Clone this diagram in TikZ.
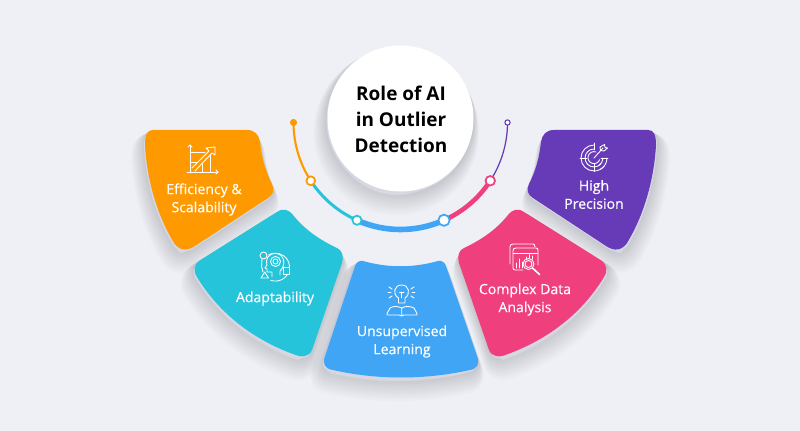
\documentclass[tikz,border=0pt]{standalone}
\usepackage{fontspec}
\setmainfont{Open Sans}
\newfontfamily\labelfont[FakeBold=0.35]{Open Sans}
\usetikzlibrary{calc}
\definecolor{pagebg}{HTML}{EFF0F5}
\definecolor{shade}{HTML}{8084B6}
\definecolor{rim}{HTML}{D5D7E6}
\definecolor{effcol}{HTML}{FF9900}
\definecolor{adacol}{HTML}{25C4DA}
\definecolor{unscol}{HTML}{40A5F5}
\definecolor{cdacol}{HTML}{EF3F7C}
\definecolor{hipcol}{HTML}{673AB7}
\newcommand\arcr{107}
\newcommand\wingshape{(153,130) -- (247,130) .. controls (255,130) and (259,135) .. (260,142) .. controls (262,160) and (266,172) .. (272,184) .. controls (275,190) and (273,195) .. (268,198) -- (195,246) .. controls (186,252) and (179,250) .. (174,243) .. controls (157,215) and (147,180) .. (145,145) .. controls (145,135) and (147,130) .. (153,130) -- cycle}
\newcommand\flankshape{(277,212) -- (199,261) .. controls (194,265) and (193,271) .. (197,277) .. controls (220,315) and (255,340) .. (293,354) .. controls (302,358) and (309,357) .. (312,350) -- (342,263) .. controls (344,256) and (342,250) .. (337,248) .. controls (320,240) and (305,230) .. (293,215) .. controls (288,209) and (283,208) .. (277,212) -- cycle}
\newcommand\baseshape{(363,261) .. controls (388,268) and (413,268) .. (438,261) .. controls (442,260) and (445,263) .. (446,266) -- (477,356) .. controls (480,364) and (477,369) .. (470,370) .. controls (425,380) and (377,380) .. (333,370) .. controls (325,369) and (322,364) .. (325,356) -- (355,266) .. controls (356,263) and (359,260) .. (363,261) -- cycle}
\tikzset{
  x=0.02cm, y=-0.02cm,
  label/.style={white, align=center, inner sep=0pt, font=\labelfont\fontsize{8}{10.3}\selectfont},
  ico/.style={draw=white, line width=0.5pt, line cap=round, line join=round},
  dot/.style={circle, fill=white, inner sep=0pt}
}
\newcommand\softshadow[1]{
  \foreach \s in {14,13,...,1} {
    \begin{scope}[transparency group, opacity=0.013]
      \draw[shade, fill=shade, line width=\s*0.8pt, line join=round, shift={(-0.3*\s,\s)}] #1;
    \end{scope}
  }
  \fill[rim, shift={(-1,2)}] #1;
}
\begin{document}
\begin{tikzpicture}
  \useasboundingbox (0,0) rectangle (800,431);
  \fill[pagebg] (0,0) rectangle (800,431);

  % petals
  \softshadow{\wingshape}
  \softshadow{\flankshape}
  \softshadow{\baseshape}
  \begin{scope}[shift={(801,0)}, xscale=-1]
    \softshadow{\wingshape}
    \softshadow{\flankshape}
  \end{scope}
  \fill[effcol] \wingshape;
  \fill[adacol] \flankshape;
  \fill[unscol] \baseshape;
  \begin{scope}[shift={(801,0)}, xscale=-1]
    \fill[hipcol] \wingshape;
    \fill[cdacol] \flankshape;
  \end{scope}

  % centre
  \coordinate (c) at (400.5,122.5);
  \softshadow{(400.5,118.5) circle[radius=73]}
  \fill[white] (400.5,118.5) circle[radius=73];
  \node[inner sep=0pt, align=center, font=\fontsize{10.8}{14.8}\selectfont\bfseries] (title) at (401,119) {Role of AI\\in Outlier\\Detection};

  % arc
  \coordinate (p0) at ($(c)+(180:\arcr)$);
  \coordinate (p1) at ($(c)+(147:\arcr)$);
  \coordinate (p2) at ($(c)+(114:\arcr)$);
  \coordinate (p3) at ($(c)+(66:\arcr)$);
  \coordinate (p4) at ($(c)+(33:\arcr)$);
  \coordinate (p5) at ($(c)+(0:\arcr)$);
  \draw[effcol, line width=1.2pt] (p0) arc[start angle=180, end angle=147, radius=\arcr];
  \draw[adacol, line width=1.7pt] (p1) arc[start angle=147, end angle=114, radius=\arcr];
  \draw[unscol, line width=3.2pt] (p2) arc[start angle=114, end angle=66, radius=\arcr];
  \draw[cdacol, line width=2.6pt] (p3) arc[start angle=66, end angle=33, radius=\arcr];
  \draw[hipcol, line width=0.7pt] (p4) arc[start angle=33, end angle=0, radius=\arcr];
  \node[dot, draw=effcol, fill=effcol, minimum size=3.6pt] (d0) at (p0) {};
  \node[dot, draw=effcol, line width=1pt, minimum size=5pt] (d1) at (p1) {};
  \node[dot, draw=adacol, line width=1pt, minimum size=5.2pt] (d2) at (p2) {};
  \node[dot, draw=unscol, line width=1pt, minimum size=6.4pt] (d3) at (p3) {};
  \node[dot, draw=cdacol, line width=1pt, minimum size=5.4pt] (d4) at (p4) {};
  \node[dot, draw=hipcol, line width=0.6pt, minimum size=3pt] (d5) at (p5) {};

  % labels
  \node[label] (eff) at (204,199.5) {Efficiency \&\\Scalability};
  \node[label] (ada) at (275,298.5) {Adaptability};
  \node[label] (uns) at (402,341.5) {Unsupervised\\Learning};
  \node[label] (cda) at (525,299.5) {Complex Data\\Analysis};
  \node[label] (hip) at (594,194.5) {High\\Precision};

  % chart icon
  \draw[ico] (190,145) -- (190,173) (187,172) -- (218,172);
  \draw[ico] (188,147) -- (190,145) -- (192,147) (216,170) -- (218,172) -- (216,174);
  \draw[ico] (190,152) -- (205,152) (190,162) -- (197,162) (202,164) -- (202,172) (210,155) -- (210,172);
  \draw[ico] (192,168) -- (209,151) -- (206,148) -- (215,147) -- (215,155) -- (212,153) -- (195,171);

  % head icon
  \draw[ico] (268.5,255) arc[start angle=-120, end angle=110, radius=14];
  \draw[ico] (262,259) -- (261.5,266) -- (263,272);
  \draw[ico, fill=adacol] (263.5,255.5) circle[radius=3.5];
  \draw[ico, fill=adacol] (283.5,267.5) rectangle (289.5,274);
  \draw[ico, fill=adacol] (261,278) -- (268.5,278) -- (264.7,272) -- cycle;
  \draw[ico] (280,275) -- (280,271) .. controls (286,266) and (285,254) .. (276,253.5) .. controls (268,253) and (265,260) .. (267,265) -- (265,268) -- (267,269) -- (267,272) -- (272,272) -- (272,277);
  \draw[ico] (275.5,261.5) circle[radius=5] (275.5,261.5) circle[radius=2.5];

  % bulb icon
  \draw[ico] (398.5,303) -- (398.5,298) .. controls (392,294) and (394,285) .. (401.7,285) .. controls (409,285) and (411,294) .. (405,298) -- (405,303) -- cycle;
  \draw[ico] (401.7,298) -- (401.7,292) (399.5,292) -- (404,292);
  \draw[ico] (389,287) -- (392,289) (388,292.5) -- (391,292.5) (389,298) -- (392,296);
  \draw[ico] (414,287) -- (411,289) (415,292.5) -- (412,292.5) (414,298) -- (411,296);
  \draw[ico] (401.7,308) .. controls (398,306) and (393,306) .. (390,308) -- (387,313.5) -- (387,315) -- (399,315) -- (401.7,316) -- (404,315) -- (417,315) -- (417,313.5) -- (414,308) .. controls (410,306) and (405,306) .. (401.7,308) -- (401.7,315);

  % data icon
  \draw[ico] (510,247) -- (510,264) (510,247) .. controls (510,245) and (511,244) .. (513,244) -- (533,244) .. controls (534,244) and (535,245) .. (535,247);
  \draw[ico] (516,248) -- (536,248) .. controls (537.5,248) and (538,249) .. (538,250) -- (538,265) (513,251) .. controls (513,249) and (514,248) .. (516,248) (513,251) -- (513,268) .. controls (513,269) and (514,270) .. (515,270) -- (523,270);
  \draw[ico] (513,253.5) -- (538,253.5);
  \draw[ico] (516,268) -- (516,263) (519,268) -- (519,259) (522,268) -- (522,262);
  \draw[ico] (526,257) -- (526,259) (529,254.5) -- (529,258) (532,256) -- (532,259);
  \draw[ico] (528.5,264) circle[radius=5.5] (528.5,264) circle[radius=3.5];
  \draw[ico, line width=0.9pt] (532.5,268) -- (539.5,274.5);

  % target icon
  \draw[ico] (594,145) arc[start angle=-90, end angle=-320, radius=13];
  \draw[ico] (594,149) arc[start angle=-90, end angle=-320, radius=9];
  \draw[ico] (596,152) arc[start angle=-70, end angle=-340, radius=6];
  \draw[ico] (607,158) arc[start angle=0, end angle=60, radius=13] (603,158) arc[start angle=0, end angle=60, radius=9];
  \draw[ico] (594,143) -- (594,150) (594,164) -- (594,171.5) (580,158) -- (587,158) (601,158) -- (608,158);
  \draw[ico] (594,158) -- (603,148);
  \draw[ico] (600,147) -- (600.5,150.5) -- (604,151) -- (607.5,148) -- (605,147.5) -- (604.5,144.5) -- cycle;
\end{tikzpicture}
\end{document}
